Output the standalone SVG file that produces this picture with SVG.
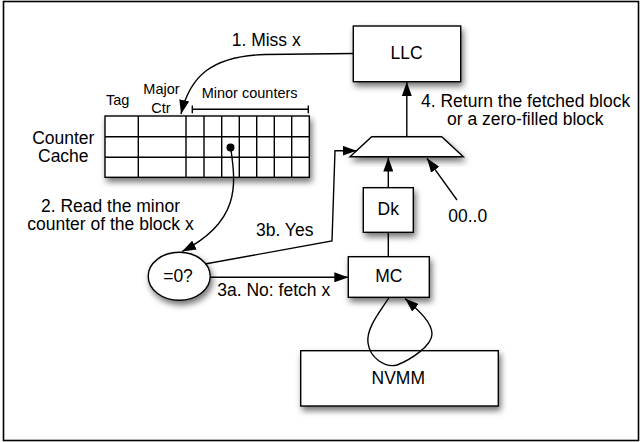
<svg xmlns="http://www.w3.org/2000/svg" width="642" height="442" viewBox="0 0 642 442">
<style>
text{font-family:"Liberation Sans",Arial,sans-serif;font-size:17.5px;fill:#000}
.sm{font-size:14.5px}
.box{fill:#fff;stroke:#000;stroke-width:1.4;filter:url(#sh)}
.ln{fill:none;stroke:#000;stroke-width:1.4}
.grid{fill:none;stroke:#000;stroke-width:1.4}
.c{text-anchor:middle}
</style>
<defs>
<filter id="sh" x="-20%" y="-20%" width="150%" height="170%">
<feDropShadow dx="2" dy="4" stdDeviation="3" flood-color="#000" flood-opacity="0.55"/>
</filter>
<marker id="ah" viewBox="0 0 14 10" refX="14" refY="5" markerWidth="14" markerHeight="10" orient="auto" markerUnits="userSpaceOnUse">
<path d="M0,0 L14,5 L0,10 z" fill="#000"/>
</marker>
</defs>
<rect x="3.5" y="1.5" width="635" height="439" fill="#fff" stroke="#000" stroke-width="1.6"/>

<g id="llc">
<rect class="box" x="353.3" y="26" width="107.4" height="55.7"/>
<text class="c" x="406.5" y="59.3">LLC</text>
</g>

<g id="counter-cache">
<text class="c" x="63.3" y="143.5">Counter</text>
<text class="c" x="63.3" y="162.2">Cache</text>
<text class="sm" x="106" y="104.5">Tag</text>
<text class="sm c" x="161.5" y="94">Major</text>
<text class="sm c" x="161" y="113">Ctr</text>
<text class="sm" x="201.7" y="98.3">Minor counters</text>
<path class="ln" d="M192.3,109.3 H308.3 M192.3,105.5 V113.3 M308.3,105.5 V113.3"/>
<rect class="box" x="105" y="116" width="204.3" height="61.3"/>
<path class="grid" d="M105,136.7 H309.3 M105,157.3 H309.3 M138.3,116 V177.3 M186,116 V177.3 M204,116 V177.3 M221.7,116 V177.3 M239.3,116 V177.3 M256.7,116 V177.3 M274.3,116 V177.3 M291.7,116 V177.3"/>
<circle cx="230.5" cy="147.5" r="4" fill="#000"/>
</g>

<g id="mux">
<polygon class="box" points="371.7,136.7 441.7,136.7 463.3,156.7 350,156.7"/>
</g>

<g id="dk">
<rect class="box" x="363.3" y="187.7" width="50" height="44.6"/>
<text class="c" x="388.3" y="215">Dk</text>
</g>

<g id="mc">
<rect class="box" x="348.3" y="256.7" width="81" height="40.6"/>
<text class="c" x="388.8" y="281.7">MC</text>
</g>

<g id="nvmm">
<rect class="box" x="300.7" y="350.7" width="197.6" height="55.3"/>
<text class="c" x="398.3" y="384">NVMM</text>
</g>

<g id="check">
<ellipse class="box" cx="179.2" cy="276.3" rx="31" ry="24"/>
<text class="c" x="178" y="281.7">=0?</text>
</g>

<g id="zero">
<text x="448.3" y="221.7">00..0</text>
</g>

<g id="connectors">
<path class="ln" d="M353.3,53.5 L265,54.5 C212,56 190,76 181,114" marker-end="url(#ah)"/>
<text x="231.7" y="46">1. Miss x</text>
<path class="ln" d="M231,150 C236,185 240,222 182,251.5" marker-end="url(#ah)"/>
<text class="c" x="110.5" y="211.7">2. Read the minor</text>
<text class="c" x="110.5" y="230">counter of the block x</text>
<path class="ln" d="M210.2,277.3 H348.3" marker-end="url(#ah)"/>
<text x="217.3" y="295.7">3a. No: fetch x</text>
<path class="ln" d="M205,264 L332,241 L335,150.7 H356.5" marker-end="url(#ah)"/>
<text x="256" y="235.7">3b. Yes</text>
<path class="ln" d="M406.8,136.7 V82" marker-end="url(#ah)"/>
<text x="421" y="106.7">4. Return the fetched block</text>
<text x="447" y="125">or a zero-filled block</text>
<path class="ln" d="M388.3,187.7 V157.5" marker-end="url(#ah)"/>
<path class="ln" d="M388.3,232.3 V256.7"/>
<path class="ln" d="M457,200 L427,158.3" marker-end="url(#ah)"/>
<path class="ln" d="M389,297.5 C380,312 366,328 368,343 C370,358 385,368 397,365 C410,360 432,346 432,334 C432,322 418,310 405,298.5" marker-end="url(#ah)"/>
</g>
</svg>
